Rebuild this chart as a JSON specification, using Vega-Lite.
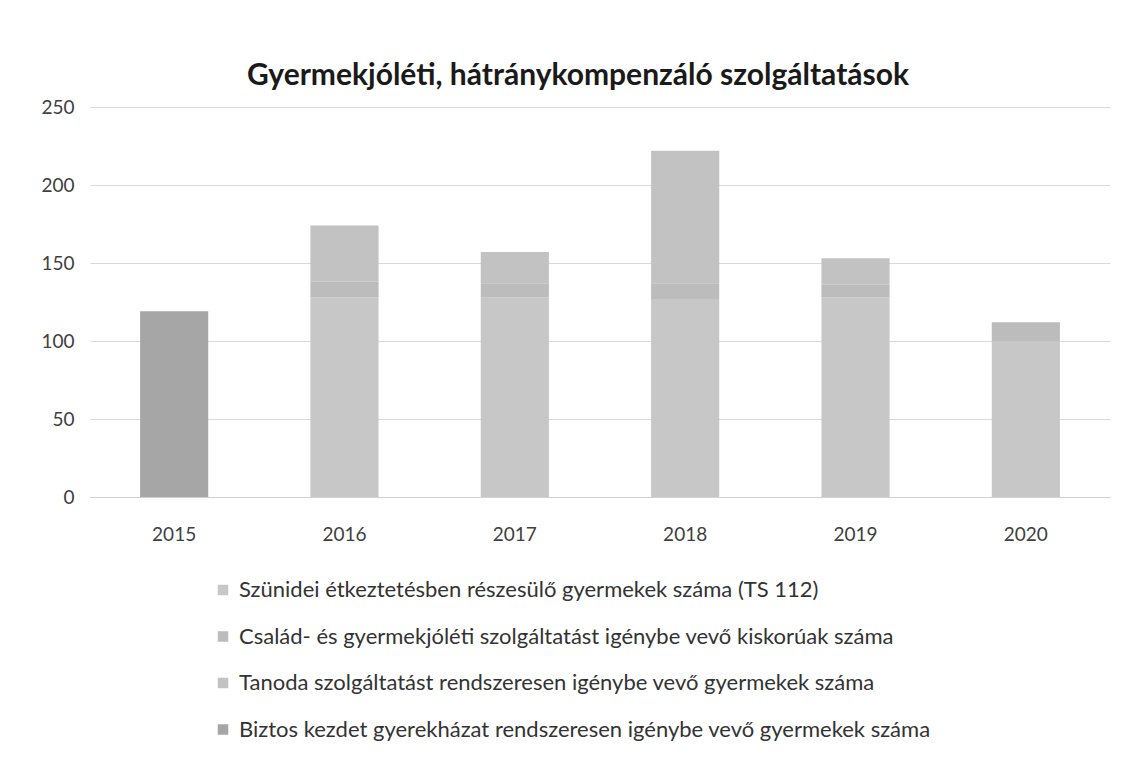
{
  "$schema": "https://vega.github.io/schema/vega-lite/v6.json",
  "width": 1020,
  "height": 390,
  "autosize": {"type": "none"},
  "padding": {"left": 90, "top": 107, "right": 19, "bottom": 264},
  "background": "white",
  "title": {
    "text": "Gyermekjóléti, hátránykompenzáló szolgáltatások",
    "font": "Lato",
    "fontSize": 30,
    "fontWeight": "bold",
    "color": "#1a1a1a",
    "anchor": "middle",
    "dx": -22,
    "offset": 7
  },
  "data": {
    "values": [
      {"ev": "2015", "sorszam": 4, "sorozat": "Biztos kezdet gyerekházat rendszeresen igénybe vevő gyermekek száma", "ertek": 119},
      {"ev": "2016", "sorszam": 1, "sorozat": "Szünidei étkeztetésben részesülő gyermekek száma (TS 112)", "ertek": 128},
      {"ev": "2016", "sorszam": 2, "sorozat": "Család- és gyermekjóléti szolgáltatást igénybe vevő kiskorúak száma", "ertek": 10},
      {"ev": "2016", "sorszam": 3, "sorozat": "Tanoda szolgáltatást rendszeresen igénybe vevő gyermekek száma", "ertek": 36},
      {"ev": "2017", "sorszam": 1, "sorozat": "Szünidei étkeztetésben részesülő gyermekek száma (TS 112)", "ertek": 128},
      {"ev": "2017", "sorszam": 2, "sorozat": "Család- és gyermekjóléti szolgáltatást igénybe vevő kiskorúak száma", "ertek": 9},
      {"ev": "2017", "sorszam": 3, "sorozat": "Tanoda szolgáltatást rendszeresen igénybe vevő gyermekek száma", "ertek": 20},
      {"ev": "2018", "sorszam": 1, "sorozat": "Szünidei étkeztetésben részesülő gyermekek száma (TS 112)", "ertek": 127},
      {"ev": "2018", "sorszam": 2, "sorozat": "Család- és gyermekjóléti szolgáltatást igénybe vevő kiskorúak száma", "ertek": 10},
      {"ev": "2018", "sorszam": 3, "sorozat": "Tanoda szolgáltatást rendszeresen igénybe vevő gyermekek száma", "ertek": 85},
      {"ev": "2019", "sorszam": 1, "sorozat": "Szünidei étkeztetésben részesülő gyermekek száma (TS 112)", "ertek": 128},
      {"ev": "2019", "sorszam": 2, "sorozat": "Család- és gyermekjóléti szolgáltatást igénybe vevő kiskorúak száma", "ertek": 8},
      {"ev": "2019", "sorszam": 3, "sorozat": "Tanoda szolgáltatást rendszeresen igénybe vevő gyermekek száma", "ertek": 17},
      {"ev": "2020", "sorszam": 1, "sorozat": "Szünidei étkeztetésben részesülő gyermekek száma (TS 112)", "ertek": 100},
      {"ev": "2020", "sorszam": 2, "sorozat": "Család- és gyermekjóléti szolgáltatást igénybe vevő kiskorúak száma", "ertek": 12}
    ]
  },
  "mark": {"type": "bar"},
  "encoding": {
    "x": {
      "field": "ev",
      "type": "nominal",
      "title": null,
      "scale": {"paddingInner": 0.6, "paddingOuter": 0.294},
      "axis": {
        "labelAngle": 0,
        "labelFont": "Lato",
        "labelFontSize": 19,
        "labelColor": "#404040",
        "labelPadding": 28,
        "ticks": false,
        "domainColor": "#d0d0d0"
      }
    },
    "y": {
      "field": "ertek",
      "type": "quantitative",
      "aggregate": "sum",
      "stack": "zero",
      "title": null,
      "scale": {"domain": [0, 250]},
      "axis": {
        "values": [0, 50, 100, 150, 200, 250],
        "labelFont": "Lato",
        "labelFontSize": 19,
        "labelColor": "#404040",
        "labelPadding": 16,
        "ticks": false,
        "domain": false,
        "gridColor": "#d9d9d9",
        "gridWidth": 1.2
      }
    },
    "color": {
      "field": "sorozat",
      "type": "nominal",
      "title": null,
      "scale": {
        "domain": [
          "Szünidei étkeztetésben részesülő gyermekek száma (TS 112)",
          "Család- és gyermekjóléti szolgáltatást igénybe vevő kiskorúak száma",
          "Tanoda szolgáltatást rendszeresen igénybe vevő gyermekek száma",
          "Biztos kezdet gyerekházat rendszeresen igénybe vevő gyermekek száma"
        ],
        "range": ["#c7c7c7", "#bcbcbc", "#c2c2c2", "#a6a6a6"]
      },
      "legend": {
        "orient": "none",
        "legendX": 122,
        "legendY": 472,
        "symbolType": "square",
        "symbolSize": 110,
        "symbolStrokeWidth": 0,
        "labelFont": "Lato",
        "labelFontSize": 22,
        "labelColor": "#333333",
        "labelOffset": 5,
        "labelLimit": 950,
        "rowPadding": 24.5
      }
    },
    "order": {"field": "sorszam", "type": "quantitative", "sort": "ascending"}
  },
  "config": {
    "view": {"stroke": null}
  }
}
